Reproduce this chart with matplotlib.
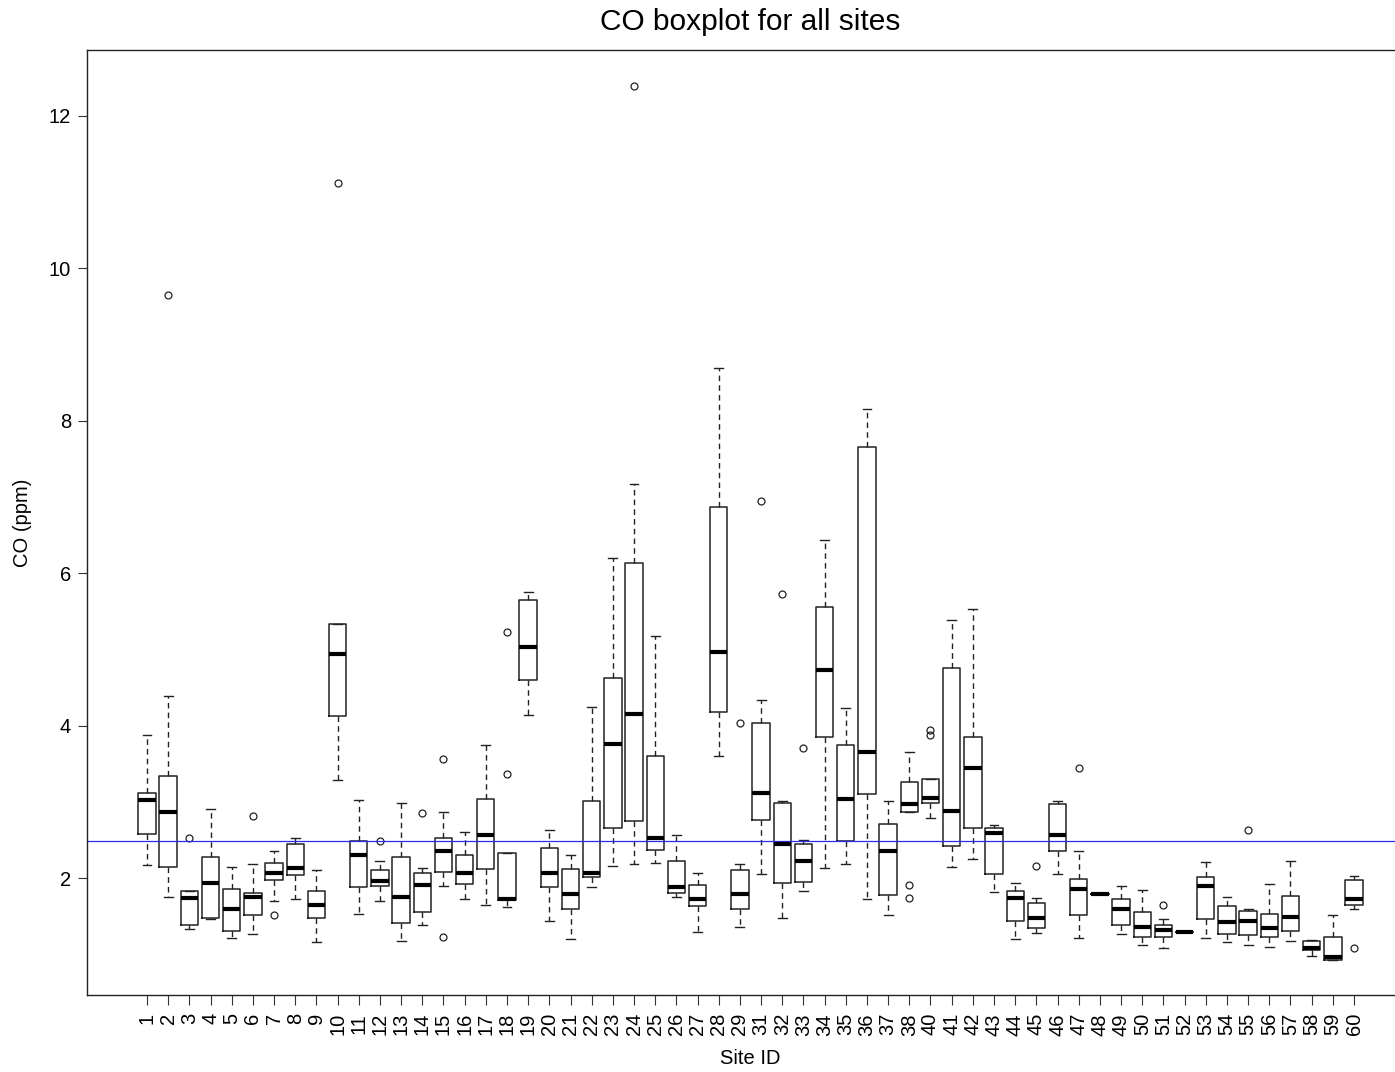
import matplotlib
matplotlib.use("Agg")
import matplotlib.pyplot as plt

plt.rcParams['font.family'] = ['Liberation Sans', 'DejaVu Sans']

# site ids (30 and 39 have no data)
sites = list(range(1, 30)) + list(range(31, 39)) + list(range(40, 61))

# whisker low, Q1, median, Q3, whisker high (ppm)
whislo = [2.17, 1.75, 1.33, 1.46, 1.21, 1.26, 1.70, 1.73, 1.16, 3.28,
          1.53, 1.70, 1.17, 1.38, 1.90, 1.73, 1.65, 1.62, 4.14, 1.43,
          1.20, 1.88, 2.16, 2.19, 2.20, 1.75, 1.29, 3.60, 1.36,
          2.05, 1.48, 1.83, 2.13, 2.19, 1.73, 1.51, 2.86,
          2.79, 2.14, 2.25, 1.82, 1.20, 1.28, 2.05, 1.21, 1.79, 1.27,
          1.12, 1.08, 1.29, 1.21, 1.16, 1.12, 1.10, 1.17, 0.98, 0.92, 1.59]
q1 = [2.58, 2.14, 1.39, 1.48, 1.30, 1.51, 1.97, 2.04, 1.48, 4.12,
      1.88, 1.90, 1.41, 1.56, 2.08, 1.92, 2.12, 1.71, 4.60, 1.88,
      1.60, 2.01, 2.65, 2.75, 2.37, 1.81, 1.63, 4.18, 1.59,
      2.76, 1.93, 1.95, 3.85, 2.49, 3.10, 1.78, 2.86,
      2.98, 2.42, 2.65, 2.05, 1.44, 1.34, 2.36, 1.51, 1.79, 1.38,
      1.23, 1.23, 1.29, 1.46, 1.27, 1.25, 1.23, 1.30, 1.06, 0.92, 1.65]
med = [3.02, 2.87, 1.74, 1.93, 1.59, 1.75, 2.07, 2.13, 1.65, 4.94,
       2.30, 1.96, 1.75, 1.91, 2.35, 2.07, 2.56, 1.72, 5.03, 2.07,
       1.79, 2.07, 3.76, 4.15, 2.52, 1.88, 1.72, 4.96, 1.79,
       3.12, 2.45, 2.22, 4.73, 3.04, 3.65, 2.35, 2.97,
       3.05, 2.88, 3.44, 2.59, 1.74, 1.48, 2.57, 1.85, 1.79, 1.60,
       1.36, 1.32, 1.29, 1.90, 1.42, 1.44, 1.34, 1.49, 1.08, 0.97, 1.73]
q3 = [3.12, 3.34, 1.83, 2.28, 1.85, 1.80, 2.20, 2.44, 1.83, 5.33,
      2.48, 2.10, 2.27, 2.06, 2.52, 2.30, 3.04, 2.33, 5.65, 2.40,
      2.12, 3.01, 4.62, 6.13, 3.60, 2.22, 1.91, 6.87, 2.11,
      4.04, 2.98, 2.44, 5.56, 3.75, 7.66, 2.71, 3.26,
      3.30, 4.76, 3.85, 2.66, 1.83, 1.67, 2.97, 1.99, 1.79, 1.72,
      1.56, 1.39, 1.29, 2.02, 1.63, 1.57, 1.53, 1.77, 1.17, 1.22, 1.97]
whishi = [3.88, 4.39, 1.83, 2.90, 2.14, 2.18, 2.35, 2.53, 2.10, 5.34,
          3.02, 2.23, 2.98, 2.13, 2.87, 2.61, 3.75, 2.33, 5.75, 2.63,
          2.30, 4.24, 6.20, 7.17, 5.18, 2.57, 2.06, 8.69, 2.18,
          4.33, 3.01, 2.50, 6.44, 4.23, 8.15, 3.01, 3.65,
          3.30, 5.39, 5.53, 2.70, 1.94, 1.74, 3.01, 2.35, 1.79, 1.89,
          1.84, 1.46, 1.29, 2.21, 1.75, 1.60, 1.92, 2.23, 1.19, 1.51, 2.03]
outliers = {2: [9.65], 3: [2.52], 6: [2.82], 7: [1.51], 10: [11.12],
            12: [2.48], 14: [2.85], 15: [3.56, 1.22], 18: [3.36, 5.23],
            24: [12.39], 29: [4.03], 31: [6.95], 32: [5.73], 33: [3.70],
            38: [1.91, 1.74], 40: [3.94, 3.88], 45: [2.16], 47: [3.44],
            51: [1.65], 55: [2.63], 60: [1.08]}

ref_level = 2.49

stats = []
for i, s in enumerate(sites):
    stats.append({'whislo': whislo[i], 'q1': q1[i], 'med': med[i],
                  'q3': q3[i], 'whishi': whishi[i],
                  'fliers': outliers.get(s, []), 'label': str(s)})

fig = plt.figure(figsize=(13.95, 10.72), dpi=100)
ax = fig.add_axes([87 / 1395, 1 - 995 / 1072, (1400 - 87) / 1395, (995 - 50) / 1072])

positions = list(range(1, len(sites) + 1))
ax.bxp(stats, positions=positions, widths=0.82, capwidths=0.42,
       boxprops=dict(color='#222222', linewidth=1.1),
       whiskerprops=dict(color='#222222', linewidth=1.0, linestyle=(0, (4, 3))),
       capprops=dict(color='#222222', linewidth=1.0),
       medianprops=dict(color='black', linewidth=3.0, solid_capstyle='butt'),
       flierprops=dict(marker='o', markersize=5, markerfacecolor='none',
                       markeredgecolor='#222222', markeredgewidth=0.9))

ax.axhline(ref_level, color='#2a2af0', linewidth=0.9)

ax.set_xlim(1 - 60 / 21.18, len(sites) + 46 / 21.18)
ax.set_ylim(0.465, 12.866)
ax.set_yticks([2, 4, 6, 8, 10, 12])
ax.set_xticks(positions)
ax.set_xticklabels([str(s) for s in sites], rotation=90)
ax.tick_params(axis='y', labelsize=14.5, length=6.5, pad=5, color='#333333')
ax.tick_params(axis='x', labelsize=14.5, length=7, pad=6, color='#333333')
ax.spines['right'].set_visible(False)
for sp in ['left', 'bottom', 'top']:
    ax.spines[sp].set_color('#222222')
    ax.spines[sp].set_linewidth(1.0)

fig.text(750 / 1395, 1 - 22 / 1072, 'CO boxplot for all sites', fontsize=21.5,
         ha='center', va='center')
fig.text(750 / 1395, 1 - 1058 / 1072, 'Site ID', fontsize=14.5,
         ha='center', va='center')
fig.text(22 / 1395, 1 - 523 / 1072, 'CO (ppm)', fontsize=14.5, rotation=90,
         ha='center', va='center')

fig.savefig('out.png', dpi=100)
